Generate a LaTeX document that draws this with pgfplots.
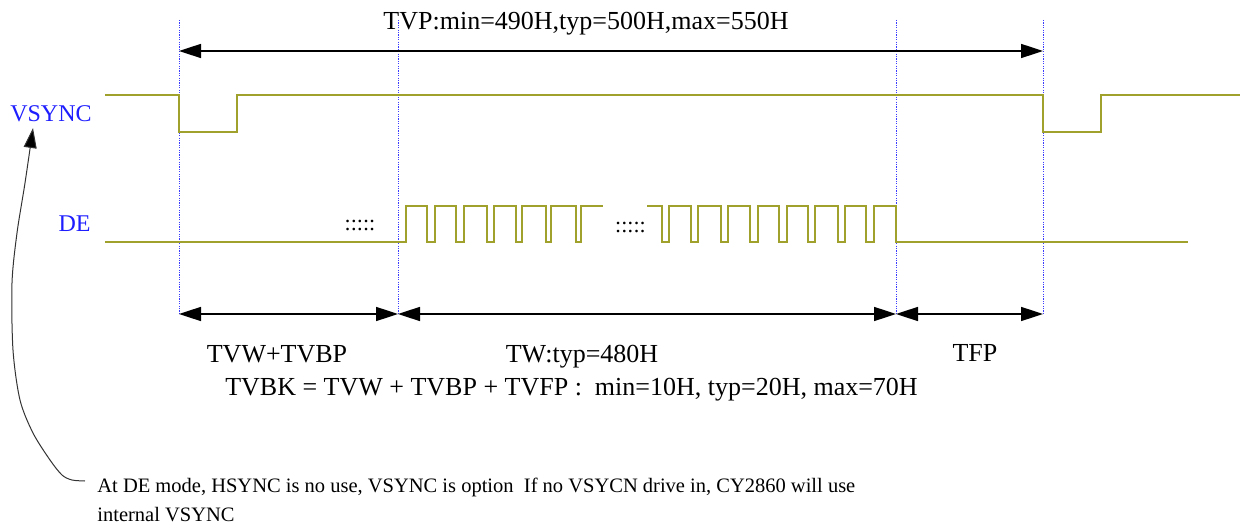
\documentclass[border=0pt]{standalone}
\usepackage{pgfplots}
\pgfplotsset{compat=1.18}
\usepackage{fontspec}
\setmainfont{Liberation Serif}
\usetikzlibrary{arrows.meta}
\definecolor{sig}{RGB}{160,160,45}
\definecolor{lbl}{RGB}{30,30,255}
\definecolor{guide}{RGB}{60,60,255}
\begin{document}
\begin{tikzpicture}
\begin{axis}[
    width=621pt, height=263pt, scale only axis,
    xmin=0, xmax=1242, ymin=0, ymax=526,
    y dir=reverse, hide axis, clip=false
]
\draw[draw=none] (rel axis cs:0,0) rectangle (rel axis cs:1,1);
% guide lines
\pgfplotsinvokeforeach{179,398,896,1043}{
  \addplot[guide, line width=0.5pt, dash pattern=on 0.6pt off 0.6pt] coordinates {(#1,20) (#1,314)};
}
% VSYNC
\addplot[sig, line width=1.1pt] coordinates {
    (105,95) (179,95) (179,132) (237,132) (237,95) (1043,95)
    (1043,132) (1101,132) (1101,95) (1240,95)
};
% DE, first burst
\addplot[sig, line width=1.1pt] coordinates {
    (105,242) (406,242) (406,206) (427,206) (427,242) (435,242)
    (435,206) (456,206) (456,242) (464,242) (464,206) (487,206)
    (487,242) (494,242) (494,206) (516,206) (516,242) (522,242)
    (522,206) (546,206) (546,242) (551,242) (551,206) (576,206)
    (576,242) (581,242) (581,206) (603,206)
};
% DE, last burst
\addplot[sig, line width=1.1pt] coordinates {
    (647,206) (662,206) (662,242) (669,242) (669,206) (691,206)
    (691,242) (698,242) (698,206) (721,206) (721,242) (728,242)
    (728,206) (750,206) (750,242) (758,242) (758,206) (779,206)
    (779,242) (787,242) (787,206) (808,206) (808,242) (815,242)
    (815,206) (838,206) (838,242) (845,242) (845,206) (866,206)
    (866,242) (874,242) (874,206) (896,206) (896,242) (1188,242)
};
% dimension arrows
\tikzset{dim/.style={black, line width=0.8pt,
    {Triangle[length=11pt,width=7pt]}-{Triangle[length=11pt,width=7pt]}}}
\addplot[dim] coordinates {(179,51) (1043,51)};
\addplot[dim] coordinates {(179,314) (398,314)};
\addplot[dim] coordinates {(398,314) (896,314)};
\addplot[dim] coordinates {(896,314) (1043,314)};
% note pointer
\addplot[black!80, line width=0.5pt, smooth, -{Triangle[length=10pt,width=6.5pt,fill=black]}] coordinates {
    (85,481) (72,480) (62,475) (50,460) (33,433) (20,400)
    (13,350) (12,283) (17,233) (25,183) (33,128)
};
% texts
\node[anchor=base, font=\fontsize{13}{15}\selectfont] at (axis cs:586,29.5) {TVP:min=490H,typ=500H,max=550H};
\node[anchor=base, text=lbl, font=\fontsize{12}{14}\selectfont] at (axis cs:51,121.7) {VSYNC};
\node[anchor=base, text=lbl, font=\fontsize{12}{14}\selectfont] at (axis cs:74.5,232) {DE};
\node[anchor=base, font=\fontsize{11}{13}\selectfont] at (axis cs:360,230.5) {:::::};
\node[anchor=base, font=\fontsize{11}{13}\selectfont] at (axis cs:630.5,232.5) {:::::};
\node[anchor=base, font=\fontsize{13}{15}\selectfont] at (axis cs:277,362) {TVW+TVBP};
\node[anchor=base, font=\fontsize{13}{15}\selectfont] at (axis cs:582,362) {TW:typ=480H};
\node[anchor=base, font=\fontsize{13}{15}\selectfont] at (axis cs:975,361) {TFP};
\node[anchor=base, font=\fontsize{13}{15}\selectfont] at (axis cs:571.5,395) {TVBK = TVW + TVBP + TVFP :\ \ min=10H, typ=20H, max=70H};
\node[anchor=base west, inner xsep=0pt, font=\fontsize{10.25}{12}\selectfont] at (axis cs:97,492) {At DE mode, HSYNC is no use, VSYNC is option\ \ If no VSYCN drive in, CY2860 will use};
\node[anchor=base west, inner xsep=0pt, font=\fontsize{10.25}{12}\selectfont] at (axis cs:97,521) {internal VSYNC};
\end{axis}
\end{tikzpicture}
\end{document}
